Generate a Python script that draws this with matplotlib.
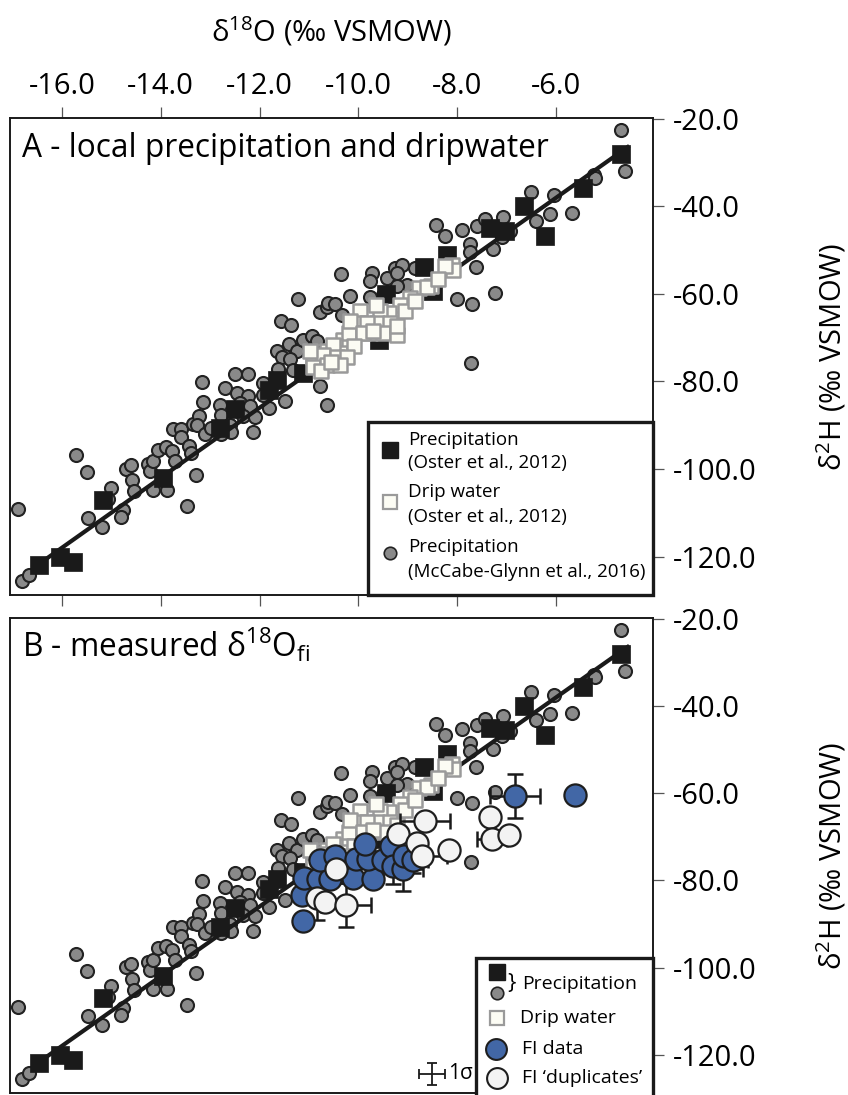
import numpy as np
import matplotlib
matplotlib.use("Agg")
import matplotlib.pyplot as plt
from matplotlib.patches import Rectangle
from matplotlib.ticker import FormatStrFormatter

plt.rcParams['font.family'] = ['Open Sans', 'DejaVu Sans']
plt.rcParams['mathtext.fontset'] = 'custom'
plt.rcParams['mathtext.rm'] = 'Open Sans'
plt.rcParams['mathtext.it'] = 'Open Sans:italic'
plt.rcParams['axes.unicode_minus'] = False

### precipitation, Oster et al. (2012)
oster_precip_d18o = [-16.47, -16.03, -15.78, -15.17, -13.96, -12.81, -12.50, -11.82, -11.65, -11.12,
                     -9.58, -9.44, -8.50, -8.67, -8.21, -7.34, -7.03, -6.22, -6.66, -5.46, -4.69]
oster_precip_d2h = [-122.0, -120.1, -121.2, -107.0, -102.0, -90.6, -86.4, -81.9, -79.6, -78.1,
                    -70.5, -60.0, -59.4, -53.9, -51.1, -45.0, -45.6, -46.7, -40.0, -35.7, -28.1]

### drip water, Oster et al. (2012)
drip_d18o = [-8.11, -8.08, -8.25, -8.53, -8.77, -8.96, -9.16, -9.39, -9.56, -9.97,
             -9.97, -9.63, -9.36, -9.77, -9.50, -9.22, -10.10, -10.31, -10.20, -10.47,
             -10.64, -10.37, -10.78, -10.17, -9.83, -9.22, -9.90, -9.70, -10.51, -10.10,
             -10.91, -10.71, -10.44, -10.24, -10.91, -10.64, -10.37, -10.98, -8.62,
             -10.75, -10.55, -9.05, -8.85, -8.40, -9.65]
drip_d2h = [-53.3, -54.5, -53.7, -58.1, -58.7, -60.9, -62.5, -64.4, -64.0, -64.0,
            -66.6, -66.6, -66.6, -68.9, -68.9, -69.3, -68.9, -70.5, -68.9, -72.0,
            -73.1, -73.5, -74.3, -66.2, -66.6, -67.4, -68.9, -68.5, -71.6, -72.0,
            -74.3, -73.9, -74.3, -74.3, -76.6, -76.2, -76.2, -73.1, -58.5,
            -77.5, -75.5, -63.8, -61.5, -56.5, -62.5]

### precipitation, McCabe-Glynn et al. (2016)
mcg_d18o = [-16.88, -16.81, -16.67, -15.71, -15.49, -15.47, -15.18, -15.01, -15.07, -14.77,
            -14.80, -14.70, -14.61, -14.58, -14.55, -14.26, -14.22, -14.16, -14.06, -14.16,
            -13.87, -13.89, -13.77, -13.72, -13.75, -13.59, -13.60, -13.42, -13.39, -13.28,
            -13.46, -13.35, -13.23, -13.27, -13.11, -12.98, -13.15, -12.81, -12.78, -12.78,
            -11.22, -10.78, -10.64, -11.57, -11.36, -11.40, -11.25, -11.65, -11.55, -11.38,
            -11.62, -11.32, -11.12, -10.95, -10.84, -10.78, -10.63, -13.17, -12.50, -12.23,
            -12.70, -12.46, -12.23, -11.93, -11.93, -12.40, -12.19, -11.82, -11.49, -12.33,
            -12.09, -12.60, -12.57, -12.14,
            -8.43, -8.25, -7.91, -7.61, -7.44, -7.74, -7.74, -7.27, -7.62, -8.01,
            -7.71, -7.23, -10.35, -9.73, -9.77, -9.43, -9.26, -9.12, -9.22, -9.02,
            -8.85, -9.22, -9.51, -9.77, -10.17, -10.61, -10.47, -10.34, -7.72,
            -4.69, -4.60, -5.24, -5.21, -6.04, -6.51, -6.12, -5.68, -6.40, -7.07,
            -6.93, -7.10]
mcg_d2h = [-109.1, -125.6, -124.3, -96.9, -100.8, -111.2, -113.3, -104.3, -106.8, -109.4,
           -110.9, -99.9, -99.2, -102.6, -105.1, -98.8, -100.5, -98.2, -95.6, -104.9,
           -104.9, -95.0, -96.0, -98.2, -90.8, -90.8, -92.7, -94.8, -96.3, -101.3,
           -108.5, -89.7, -87.8, -89.9, -92.1, -90.6, -84.7, -85.3, -87.6, -92.1,
           -61.2, -64.2, -62.9, -66.1, -67.0, -71.4, -73.1, -73.1, -74.3, -74.9,
           -77.1, -77.3, -70.5, -69.7, -70.8, -81.1, -85.3, -80.2, -78.2, -78.2,
           -81.6, -82.6, -83.4, -80.3, -83.0, -84.9, -85.7, -86.1, -84.5, -88.0,
           -88.2, -89.9, -91.6, -91.6,
           -44.2, -46.7, -45.3, -44.4, -42.9, -48.5, -50.3, -49.8, -53.9, -61.2,
           -62.2, -59.8, -55.4, -55.2, -57.1, -56.4, -54.1, -53.3, -55.2, -57.9,
           -54.1, -58.1, -60.2, -60.7, -60.4, -62.1, -62.2, -64.7, -75.8,
           -22.5, -31.9, -32.8, -33.4, -37.5, -36.8, -41.8, -41.5, -43.3, -42.3,
           -45.7, -46.9]

### fluid inclusion measurements
fi_d18o = [-6.83, -5.62, -11.12, -11.14, -11.10, -10.82, -10.57, -10.11, -9.70, -10.78,
           -10.47, -10.05, -9.81, -9.50, -9.87, -9.34, -9.30, -9.10, -9.08, -8.89]
fi_d2h = [-60.6, -60.4, -89.3, -83.3, -79.4, -79.8, -79.8, -79.4, -79.8, -75.4,
          -74.5, -75.2, -75.2, -75.4, -71.7, -72.2, -76.8, -77.5, -74.5, -75.4]
fi_d18o_err = [0.5, 0, 0, 0, 0, 0, 0, 0, 0, 0, 0, 0, 0, 0, 0, 0, 0.3, 0.4, 0, 0.3]
fi_d2h_err = [5, 0, 0, 0, 0, 0, 0, 0, 0, 0, 0, 0, 0, 0, 0, 0, 4, 5, 0, 3]

dup_d18o = [-8.65, -9.20, -8.81, -8.71, -8.17, -7.34, -7.30, -6.95, -10.45, -10.84, -10.68, -10.25]
dup_d2h = [-66.4, -69.4, -71.5, -74.5, -73.1, -65.5, -70.6, -69.7, -77.5, -84.0, -84.9, -85.6]
dup_d18o_err = [0.5, 0, 0, 0.5, 0, 0, 0.3, 0, 0, 0, 0, 0.5]
dup_d2h_err = [0, 0, 0, 0, 0, 0, 0, 0, 3, 5, 0, 5]

### meteoric water line
lmwl_slope = 8.0
lmwl_intercept = 10.0
lmwl_range = [-16.45, -4.52]

### typical analytical uncertainty
sigma_d18o = 0.27
sigma_d2h = 2.6
sigma_pos = [-8.51, -124.4]

xticks = [-16, -14, -12, -10, -8, -6]
yticks = [-20, -40, -60, -80, -100, -120]

BLACK = '#1a1a1a'
GREY = '#8a8a8a'
BLUE = '#4267a6'
WHITE = '#f3f3f3'
DRIP_FACE = '#fcfcf4'
DRIP_EDGE = '#9a9a9a'
FS = 21


def draw_base(ax):
    lx = np.array(lmwl_range)
    ax.scatter(mcg_d18o, mcg_d2h, s=88, c=GREY, edgecolors='#222222', linewidths=1.5, zorder=2)
    ax.plot(lx, lmwl_slope * lx + lmwl_intercept, color=BLACK, lw=3.0, zorder=3, solid_capstyle='butt')
    ax.scatter(oster_precip_d18o, oster_precip_d2h, s=150, marker='s', c=BLACK, edgecolors=BLACK,
               linewidths=0.5, zorder=4)
    ax.scatter(drip_d18o, drip_d2h, s=115, marker='s', c=DRIP_FACE, edgecolors=DRIP_EDGE,
               linewidths=1.8, zorder=5)


def draw_fi(ax, x, y, xerr, yerr, face, z):
    x, y, xerr, yerr = map(np.asarray, (x, y, xerr, yerr))
    has_err = (xerr > 0) | (yerr > 0)
    ax.errorbar(x[has_err], y[has_err], xerr=xerr[has_err], yerr=yerr[has_err], fmt='none',
                ecolor=BLACK, elinewidth=1.8, capsize=5.5, capthick=1.8, zorder=6)
    ax.scatter(x, y, s=255, c=face, edgecolors='#1e1e1e', linewidths=1.6, zorder=z)


def style_axes(ax):
    ax.set_xlim(-17.05, -4.04)
    ax.set_ylim(-128.8, -19.8)
    ax.set_xticks(xticks)
    ax.xaxis.set_major_formatter(FormatStrFormatter('%.1f'))
    ax.set_yticks(yticks)
    ax.yaxis.set_major_formatter(FormatStrFormatter('%.1f'))
    ax.yaxis.tick_right()
    ax.yaxis.set_label_position('right')
    ax.tick_params(axis='y', direction='out', length=8, width=0.9, color='#555555',
                   labelsize=FS, pad=6)
    for sp in ax.spines.values():
        sp.set_linewidth(1.4)
        sp.set_color(BLACK)
    ax.set_ylabel(r'δ$^{\mathrm{2}}$H (‰ VSMOW)', fontsize=FS, labelpad=42)


def legend_box(ax, x0, y0, w, h):
    ax.add_patch(Rectangle((x0, y0), w, h, transform=ax.transAxes, facecolor='white',
                           edgecolor=BLACK, linewidth=2.4, zorder=10, clip_on=False))


def legend_marker(ax, x, y, **kw):
    ax.plot([x], [y], transform=ax.transAxes, linestyle='none', zorder=11, clip_on=False, **kw)


def legend_text(ax, x, y, s, size=13.5):
    ax.text(x, y, s, transform=ax.transAxes, fontsize=size, ha='left', va='center', zorder=12)


fig = plt.figure(figsize=(8.48, 10.95), dpi=100)
ax1 = fig.add_axes([0.0118, 0.4566, 0.7583, 0.4356])
ax2 = fig.add_axes([0.0118, 0.0018, 0.7583, 0.4338])

### panel A
draw_base(ax1)
style_axes(ax1)
ax1.xaxis.set_label_position('top')
ax1.tick_params(axis='x', top=True, bottom=True, labeltop=True, labelbottom=False,
                direction='out', length=8, width=0.9, color='#555555', labelsize=FS, pad=4)
ax1.set_xlabel(r'δ$^{\mathrm{18}}$O (‰ VSMOW)', fontsize=FS, labelpad=22)
ax1.text(0.019, 0.937, 'A - local precipitation and dripwater', transform=ax1.transAxes,
         fontsize=22.8, ha='left', va='center')

legend_box(ax1, 0.557, 0.0, 0.443, 0.363)
legend_marker(ax1, 0.591, 0.304, marker='s', ms=11, mfc=BLACK, mec=BLACK)
legend_marker(ax1, 0.591, 0.195, marker='s', ms=10, mfc=DRIP_FACE, mec=DRIP_EDGE, mew=1.6)
legend_marker(ax1, 0.591, 0.088, marker='o', ms=9, mfc=GREY, mec='#222222', mew=1.2)
legend_text(ax1, 0.619, 0.325, 'Precipitation')
legend_text(ax1, 0.619, 0.277, '(Oster et al., 2012)')
legend_text(ax1, 0.619, 0.216, 'Drip water')
legend_text(ax1, 0.619, 0.164, '(Oster et al., 2012)')
legend_text(ax1, 0.619, 0.101, 'Precipitation')
legend_text(ax1, 0.619, 0.048, '(McCabe-Glynn et al., 2016)')

### panel B
draw_base(ax2)
draw_fi(ax2, fi_d18o, fi_d2h, fi_d18o_err, fi_d2h_err, BLUE, 7)
draw_fi(ax2, dup_d18o, dup_d2h, dup_d18o_err, dup_d2h_err, WHITE, 8)
style_axes(ax2)
ax2.tick_params(axis='x', top=False, bottom=False, labeltop=False, labelbottom=False)
ax2.text(0.019, 0.943, r'B - measured δ$^{\mathrm{18}}$O$_{\mathrm{fi}}$', transform=ax2.transAxes,
         fontsize=22.8, ha='left', va='center')

ax2.errorbar([sigma_pos[0]], [sigma_pos[1]], xerr=sigma_d18o, yerr=sigma_d2h, fmt='none',
             ecolor=BLACK, elinewidth=1.3, capsize=3.5, capthick=1.3, zorder=6)
ax2.text(sigma_pos[0] + 0.33, sigma_pos[1], '1σ', fontsize=15, ha='left', va='center')

legend_box(ax2, 0.725, -0.01, 0.275, 0.294)
legend_marker(ax2, 0.757, 0.2547, marker='s', ms=11.5, mfc=BLACK, mec=BLACK)
legend_marker(ax2, 0.757, 0.2105, marker='o', ms=9, mfc=GREY, mec='#222222', mew=1.2)
legend_text(ax2, 0.773, 0.231, '}', size=16)
legend_text(ax2, 0.796, 0.229, 'Precipitation', size=14)
legend_marker(ax2, 0.757, 0.158, marker='s', ms=9.5, mfc=DRIP_FACE, mec=DRIP_EDGE, mew=1.6)
legend_text(ax2, 0.7925, 0.158, 'Drip water', size=14)
legend_marker(ax2, 0.756, 0.093, marker='o', ms=15, mfc=BLUE, mec='#1e1e1e', mew=1.5)
legend_text(ax2, 0.796, 0.093, 'FI data', size=14)
legend_marker(ax2, 0.757, 0.032, marker='o', ms=15, mfc=WHITE, mec='#1e1e1e', mew=1.5)
legend_text(ax2, 0.796, 0.032, 'FI ‘duplicates’', size=14)

fig.savefig('out.png', dpi=100)
